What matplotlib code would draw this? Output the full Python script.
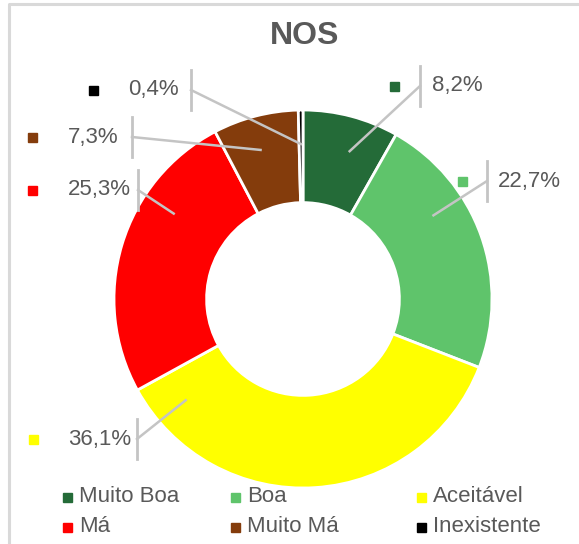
import numpy as np
import matplotlib
matplotlib.use('Agg')
import matplotlib.pyplot as plt
from matplotlib.patches import Rectangle

# data
categories = ['Muito Boa', 'Boa', 'Aceitável', 'Má', 'Muito Má', 'Inexistente']
values = [8.2, 22.7, 36.1, 25.3, 7.3, 0.4]
value_labels = ['8,2%', '22,7%', '36,1%', '25,3%', '7,3%', '0,4%']
colors = ['#246B38', '#5FC46B', '#FFFF00', '#FF0000', '#843C0C', '#000000']

# label layout in pixels (top-left origin): marker x, text x, bar x, y
label_pos = [
    (394, 432, 420, 86),
    (462, 498, 487, 181),
    (33, 68, 137, 439),
    (32, 68, 138, 190),
    (32, 68, 132, 137),
    (93, 128, 191, 90),
]

W, H = 579, 544
text_col = '#595959'
line_col = '#C4C4C4'
plt.rcParams['font.family'] = ['Liberation Sans', 'DejaVu Sans']

fig = plt.figure(figsize=(W / 100, H / 100), dpi=100)
ax = fig.add_axes([0, 0, 1, 1])
ax.set_xlim(0, W)
ax.set_ylim(0, H)
ax.axis('off')

def py(y):
    return H - y

# chart frame
ax.plot([9, 9, W + 5], [-5, py(4), py(4)], color='#D9D9D9', lw=2.2, solid_capstyle='butt')

cx, cy, R = 303, py(299), 189
wedges, _ = ax.pie(values, colors=colors, startangle=90, counterclock=False,
                   center=(cx, cy), radius=R,
                   wedgeprops=dict(width=R * 0.49, edgecolor='white', linewidth=2))
ax.set_xlim(0, W)
ax.set_ylim(0, H)
ax.set_aspect('equal')

ax.text(305, py(36), 'NOS', ha='center', va='center', fontsize=23, fontweight='bold',
        color=text_col, family=['Liberation Sans Narrow', 'Liberation Sans', 'DejaVu Sans'])

ms = 9
for w, lab, col, (mx, tx, bx, y) in zip(wedges, value_labels, colors, label_pos):
    ax.add_patch(Rectangle((mx - ms / 2, py(y) - ms / 2), ms, ms, color=col, zorder=5))
    ax.text(tx, py(y), lab, ha='left', va='center', fontsize=16, color=text_col)
    ax.plot([bx, bx], [py(y) - 20, py(y) + 20], color=line_col, lw=2)
    # leader end: direction of the bar, clamped inside the wedge
    t1, t2 = w.theta1, w.theta2
    span = t2 - t1
    m = min(0.45 * span, 12)
    ang = np.degrees(np.arctan2(py(y) - cy, bx - cx))
    while ang < t1:
        ang += 360
    while ang > t1 + 360:
        ang -= 360
    if ang > t2:
        d_lo = (t1 + 360) - ang
        d_hi = ang - t2
        ang = t1 + m if d_lo < d_hi else t2 - m
    else:
        ang = min(max(ang, t1 + m), t2 - m)
    r = 0.82 * R
    ex, ey = cx + r * np.cos(np.radians(ang)), cy + r * np.sin(np.radians(ang))
    ax.plot([bx, ex], [py(y), ey], color=line_col, lw=1.8, zorder=6)

# legend
leg_x = [67, 235, 421]
leg_y = [497, 527]
for i, (cat, col) in enumerate(zip(categories, colors)):
    x = leg_x[i % 3]
    y = leg_y[i // 3]
    ax.add_patch(Rectangle((x - ms / 2, py(y) - ms / 2), ms, ms, color=col))
    ax.text(x + 12, py(y), cat, ha='left', va='center', fontsize=16, color=text_col)

fig.savefig('out.png', dpi=100)
